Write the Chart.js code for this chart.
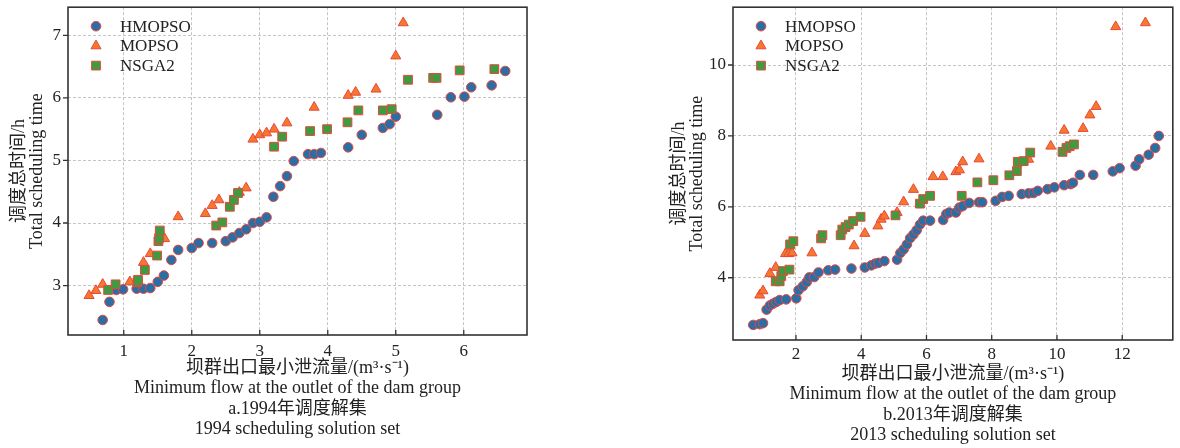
<!DOCTYPE html>
<html>
<head>
<meta charset="utf-8">
<script src="https://cdn.jsdelivr.net/npm/chart.js@4.4.1/dist/chart.umd.min.js"></script>
<style>
  html, body { margin: 0; padding: 0; background: #fff; }
  body { width: 1180px; height: 448px; position: relative; overflow: hidden; }
  .box { position: absolute; top: 0; height: 448px; }
  #boxA { left: 0; width: 560px; }
  #boxB { left: 660px; width: 520px; }
</style>
</head>
<body>
<div class="box" id="boxA"><canvas id="chartA"></canvas></div>
<div class="box" id="boxB"><canvas id="chartB"></canvas></div>
<script>
// series names
const SERIES = ["HMOPSO", "MOPSO", "NSGA2"];

// 1994 solution set (left)
const HM94_X = [0.69,0.79,0.89,0.99,1.19,1.29,1.39,1.50,1.59,1.70,1.80,2.00,2.10,2.30,2.50,2.60,2.70,2.80,2.90,3.00,3.10,3.20,3.30,3.40,3.50,3.71,3.80,3.90,4.30,4.50,4.81,4.91,5.00,5.61,5.81,6.01,6.11,6.41,6.61];
const HM94_Y = [2.45,2.74,2.93,2.94,2.95,2.95,2.96,3.06,3.16,3.41,3.57,3.60,3.68,3.68,3.71,3.77,3.84,3.90,4.00,4.02,4.09,4.42,4.59,4.75,4.99,5.10,5.10,5.12,5.21,5.41,5.52,5.58,5.70,5.73,6.01,6.02,6.17,6.20,6.43];
const MO94_X = [0.49,0.59,0.69,1.09,1.29,1.39,1.60,1.80,2.20,2.30,2.40,2.70,2.80,2.90,3.00,3.10,3.21,3.40,3.80,4.30,4.41,4.71,5.00,5.11];
const MO94_Y = [2.84,2.92,3.02,3.06,3.37,3.51,3.75,4.10,4.15,4.28,4.37,4.49,4.56,5.34,5.41,5.44,5.50,5.60,5.85,6.04,6.09,6.14,6.67,7.20];
const NS94_X = [0.77,0.88,1.20,1.21,1.31,1.49,1.51,1.52,1.53,2.36,2.45,2.56,2.62,2.68,3.21,3.33,3.74,3.99,4.29,4.45,4.81,4.94,5.18,5.55,5.60,5.94,6.45];
const NS94_Y = [2.93,3.02,3.05,3.09,3.25,3.48,3.71,3.76,3.88,3.96,4.01,4.26,4.37,4.48,5.22,5.38,5.47,5.50,5.61,5.80,5.80,5.82,6.29,6.32,6.32,6.44,6.46];

// 2013 solution set (right)
const HM13_X = [0.69,0.89,0.99,1.10,1.20,1.30,1.40,1.50,1.70,2.01,2.08,2.21,2.33,2.41,2.56,2.69,2.99,3.20,3.70,4.11,4.31,4.43,4.53,4.71,5.10,5.20,5.30,5.40,5.50,5.60,5.70,5.80,5.90,6.11,6.51,6.61,6.70,6.90,7.01,7.11,7.31,7.61,7.71,8.12,8.32,8.52,8.92,9.13,9.28,9.41,9.71,9.92,10.22,10.42,10.49,10.70,11.11,11.71,11.92,12.41,12.52,12.81,13.01,13.12];
const HM13_Y = [2.67,2.69,2.72,3.10,3.22,3.27,3.32,3.37,3.39,3.42,3.65,3.76,3.88,4.01,4.02,4.15,4.21,4.23,4.26,4.29,4.35,4.40,4.42,4.47,4.51,4.70,4.80,4.94,5.12,5.22,5.34,5.50,5.61,5.61,5.63,5.80,5.84,5.84,5.98,6.02,6.11,6.13,6.13,6.17,6.28,6.31,6.36,6.38,6.39,6.45,6.50,6.55,6.61,6.64,6.68,6.90,6.90,7.00,7.09,7.16,7.34,7.47,7.66,8.00];
const MO13_X = [0.89,0.99,1.20,1.38,1.68,1.78,1.88,2.49,3.78,4.11,4.51,4.61,4.71,5.10,5.30,5.60,6.20,6.50,6.90,7.01,7.11,7.61,9.13,9.81,10.22,10.80,11.01,11.20,11.80,12.71];
const MO13_Y = [3.51,3.63,4.12,4.29,4.68,4.68,4.70,4.70,4.90,5.25,5.46,5.65,5.74,5.84,6.14,6.49,6.85,6.85,6.99,7.04,7.27,7.35,7.34,7.71,8.16,8.21,8.59,8.83,11.08,11.19];
const NS13_X = [1.38,1.50,1.55,1.60,1.80,1.82,1.92,2.77,2.81,3.37,3.42,3.52,3.62,3.75,3.98,5.05,5.80,5.90,6.11,7.08,7.56,8.05,8.54,8.77,8.80,8.98,9.18,10.17,10.29,10.39,10.52];
const NS13_Y = [3.90,3.90,4.05,4.19,4.23,4.94,5.03,5.11,5.20,5.20,5.36,5.43,5.50,5.60,5.72,5.76,6.09,6.22,6.31,6.31,6.69,6.75,6.89,7.01,7.27,7.29,7.53,7.55,7.66,7.71,7.76];

// tick labels
const X_TICKS_94 = [1, 2, 3, 4, 5, 6];
const Y_TICKS_94 = [3, 4, 5, 6, 7];
const X_TICKS_13 = [2, 4, 6, 8, 10, 12];
const Y_TICKS_13 = [4, 6, 8, 10];

// axis texts
const Y_TITLE = ["调度总时间/h", "Total scheduling time"];
const X_TITLE_94 = ["坝群出口最小泄流量/(m³·s⁻¹)", "Minimum flow at the outlet of the dam group", "a.1994年调度解集", "1994 scheduling solution set"];
const X_TITLE_13 = ["坝群出口最小泄流量/(m³·s⁻¹)", "Minimum flow at the outlet of the dam group", "b.2013年调度解集", "2013 scheduling solution set"];

const SERIF = '"Liberation Serif", "Times New Roman", "Noto Sans CJK SC", serif';
const TEXT = "#222";
const EDGE = "#e5483c";
const BLUE = "#2b6ea6";
const ORANGE = "#f7772c";
const GREEN = "#3f9b3f";
const GRID = "#c4c4c4";

function pts(xs, ys) {
    return xs.map((x, i) => ({ x: x, y: ys[i] }));
}

// frame, inward/outward ticks and the legend inside the plot area
const framePlugin = {
    id: "frame",
    afterDraw(chart) {
        const { ctx, chartArea: a, scales } = chart;
        const x = scales.x, y = scales.y;
        ctx.save();
        ctx.strokeStyle = "#333";
        ctx.lineWidth = 1.6;
        ctx.strokeRect(a.left, a.top, a.right - a.left, a.bottom - a.top);

        ctx.lineWidth = 1.3;
        ctx.beginPath();
        x.ticks.forEach(t => {
            const px = x.getPixelForValue(t.value);
            ctx.moveTo(px, a.bottom);
            ctx.lineTo(px, a.bottom - 5);
        });
        y.ticks.forEach(t => {
            const py = y.getPixelForValue(t.value);
            ctx.moveTo(a.left, py);
            ctx.lineTo(a.left - 5, py);
        });
        ctx.stroke();

        ctx.font = "17px " + SERIF;
        ctx.textBaseline = "middle";
        ctx.textAlign = "left";
        chart.data.datasets.forEach((ds, i) => {
            const cy = a.top + 19 + i * 19.7;
            const cx = a.left + 28;
            ctx.fillStyle = ds.backgroundColor;
            ctx.strokeStyle = ds.borderColor;
            ctx.lineWidth = ds.borderWidth;
            Chart.helpers.drawPoint(ctx, { pointStyle: ds.pointStyle, radius: ds.pointRadius, borderWidth: ds.borderWidth, rotation: 0 }, cx, cy);
            ctx.fillStyle = TEXT;
            ctx.fillText(ds.label, a.left + 52, cy + 1);
        });
        ctx.restore();
    }
};

function makeChart(id, d) {
    return new Chart(document.getElementById(id), {
        type: "scatter",
        data: {
            datasets: [
                { label: SERIES[0], data: pts(d.hx, d.hy), pointStyle: "circle", pointRadius: 4.8, backgroundColor: BLUE, borderColor: EDGE, borderWidth: 1, order: 3 },
                { label: SERIES[1], data: pts(d.mx, d.my), pointStyle: "triangle", pointRadius: 5.8, backgroundColor: ORANGE, borderColor: EDGE, borderWidth: 1, order: 2 },
                { label: SERIES[2], data: pts(d.nx, d.ny), pointStyle: "rect", pointRadius: 6.2, backgroundColor: GREEN, borderColor: EDGE, borderWidth: 1, order: 1 }
            ]
        },
        options: {
            responsive: true,
            maintainAspectRatio: false,
            animation: false,
            events: [],
            layout: { padding: { top: 7, right: d.padRight, left: 0, bottom: 0 } },
            plugins: {
                legend: { display: false },
                tooltip: { enabled: false }
            },
            scales: {
                x: {
                    type: "linear",
                    min: d.xMin, max: d.xMax,
                    bounds: "data",
                    afterBuildTicks: s => { s.ticks = d.xTicks.map(v => ({ value: v })); },
                    afterFit: s => { s.height = d.xH; s.paddingLeft = 0; s.paddingRight = 0; },
                    grid: { color: GRID, lineWidth: 1, drawTicks: false },
                    border: { display: false, dash: [3, 2] },
                    ticks: { padding: d.xTickPad, color: TEXT, font: { family: SERIF, size: 17 } },
                    title: {
                        display: true, text: d.xTitle, color: TEXT,
                        font: { family: SERIF, size: 18, lineHeight: "20.5px" },
                        padding: { top: 0, bottom: d.xTitlePad }
                    }
                },
                y: {
                    type: "linear",
                    min: d.yMin, max: d.yMax,
                    bounds: "data",
                    afterBuildTicks: s => { s.ticks = d.yTicks.map(v => ({ value: v })); },
                    afterFit: s => { s.width = d.yW; s.paddingTop = 0; s.paddingBottom = 0; },
                    grid: { color: GRID, lineWidth: 1, drawTicks: false },
                    border: { display: false, dash: [3, 2] },
                    ticks: { padding: 7, color: TEXT, font: { family: SERIF, size: 17 } },
                    title: {
                        display: true, text: Y_TITLE, color: TEXT,
                        font: { family: SERIF, size: 18, lineHeight: "17.5px" },
                        padding: { top: 11, bottom: 0 }
                    }
                }
            }
        },
        plugins: [framePlugin]
    });
}

makeChart("chartA", {
    hx: HM94_X, hy: HM94_Y, mx: MO94_X, my: MO94_Y, nx: NS94_X, ny: NS94_Y,
    xMin: 0.18, xMax: 6.93, yMin: 2.21, yMax: 7.45,
    xTicks: X_TICKS_94, yTicks: Y_TICKS_94, xTitle: X_TITLE_94,
    padRight: 33, yW: 68, xH: 113, xTickPad: 6, xTitlePad: 8
});

makeChart("chartB", {
    hx: HM13_X, hy: HM13_Y, mx: MO13_X, my: MO13_Y, nx: NS13_X, ny: NS13_Y,
    xMin: 0.07, xMax: 13.55, yMin: 2.245, yMax: 11.63,
    xTicks: X_TICKS_13, yTicks: Y_TICKS_13, xTitle: X_TITLE_13,
    padRight: 2, yW: 73, xH: 108, xTickPad: 4, xTitlePad: 2
});
</script>
</body>
</html>
